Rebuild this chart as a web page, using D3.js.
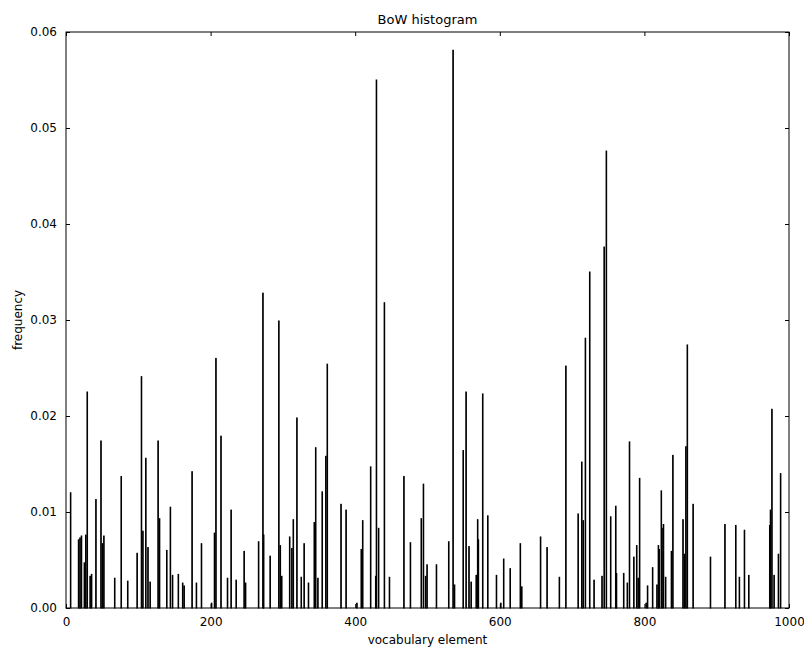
<!DOCTYPE html>
<html>
<head>
<meta charset="utf-8">
<script src="https://cdn.jsdelivr.net/npm/d3@7"></script>
<style>
  body { margin: 0; background: #fff; }
  text { font-family: "DejaVu Sans", sans-serif; fill: #000; }
</style>
</head>
<body>
<div id="chart"></div>
<script>
// vocabulary indices that have non-zero frequency, and their frequency
const vocabIndex = [
  6, 17, 19, 21, 25, 27, 29, 33, 35, 41, 48, 50, 52, 67, 76, 85, 98, 104, 106, 110,
  113, 116, 127, 129, 139, 144, 147, 155, 161, 163, 174, 180, 187, 201, 205, 207, 214, 223, 228, 235,
  246, 248, 266, 272, 273, 282, 294, 296, 298, 309, 312, 314, 319, 325, 329, 335, 343, 345, 348, 354,
  359, 361, 380, 387, 402, 408, 410, 421, 428, 429, 432, 440, 447, 467, 476, 491, 494, 497, 499, 512,
  529, 535, 537, 549, 553, 557, 560, 567, 569, 570, 576, 583, 595, 601, 605, 614, 628, 630, 656, 665,
  682, 691, 708, 713, 715, 718, 724, 730, 741, 744, 747, 753, 760, 761, 771, 776, 779, 785, 789, 791,
  793, 802, 804, 811, 817, 819, 820, 823, 824, 826, 829, 837, 839, 853, 855, 857, 859, 867, 891, 911,
  926, 931, 938, 944, 973, 974, 976, 979, 985, 988
];
const frequency = [
  0.0120, 0.0071, 0.0073, 0.0075, 0.0047, 0.0076, 0.0225, 0.0033, 0.0035, 0.0113,
  0.0174, 0.0067, 0.0075, 0.0031, 0.0137, 0.0028, 0.0057, 0.0241, 0.0080, 0.0156,
  0.0063, 0.0027, 0.0174, 0.0093, 0.0060, 0.0105, 0.0034, 0.0035, 0.0026, 0.0023,
  0.0142, 0.0026, 0.0067, 0.0005, 0.0078, 0.0260, 0.0179, 0.0031, 0.0102, 0.0029,
  0.0059, 0.0026, 0.0069, 0.0328, 0.0076, 0.0054, 0.0299, 0.0065, 0.0033, 0.0074,
  0.0062, 0.0092, 0.0198, 0.0032, 0.0067, 0.0026, 0.0089, 0.0167, 0.0031, 0.0121,
  0.0158, 0.0254, 0.0108, 0.0102, 0.0005, 0.0061, 0.0091, 0.0147, 0.0033, 0.0550,
  0.0083, 0.0318, 0.0032, 0.0137, 0.0068, 0.0093, 0.0129, 0.0033, 0.0045, 0.0045,
  0.0069, 0.0581, 0.0024, 0.0164, 0.0225, 0.0064, 0.0027, 0.0034, 0.0092, 0.0071,
  0.0223, 0.0096, 0.0034, 0.0005, 0.0051, 0.0041, 0.0067, 0.0022, 0.0074, 0.0063,
  0.0032, 0.0252, 0.0098, 0.0152, 0.0091, 0.0281, 0.0350, 0.0029, 0.0033, 0.0376,
  0.0476, 0.0095, 0.0106, 0.0036, 0.0036, 0.0026, 0.0173, 0.0053, 0.0065, 0.0031,
  0.0135, 0.0005, 0.0023, 0.0042, 0.0024, 0.0065, 0.0061, 0.0122, 0.0083, 0.0087,
  0.0032, 0.0059, 0.0159, 0.0092, 0.0056, 0.0168, 0.0274, 0.0108, 0.0053, 0.0087,
  0.0086, 0.0032, 0.0081, 0.0034, 0.0086, 0.0102, 0.0207, 0.0034, 0.0056, 0.0140
];
const xTicks = [0, 200, 400, 600, 800, 1000];
const yTicks = [0, 0.01, 0.02, 0.03, 0.04, 0.05, 0.06];

const bars = vocabIndex.map((v, i) => ({ idx: v, f: frequency[i] }));

const W = 804, H = 651;
const mLeft = 66, mRight = 789, mTop = 32, mBottom = 608;

const svg = d3.select("#chart").append("svg")
  .attr("width", W).attr("height", H);

const x = d3.scaleLinear().domain([0, 1000]).range([mLeft, mRight]);
const y = d3.scaleLinear().domain([0, 0.06]).range([mBottom, mTop]);

// bars
svg.append("g")
  .selectAll("rect")
  .data(bars)
  .enter()
  .append("rect")
  .attr("x", d => x(d.idx))
  .attr("width", x(0.8) - x(0))
  .attr("y", d => y(d.f))
  .attr("height", d => y(0) - y(d.f))
  .attr("fill", "#000")
  .attr("stroke", "#000")
  .attr("stroke-width", 1);

// frame
svg.append("rect")
  .attr("x", mLeft).attr("y", mTop)
  .attr("width", mRight - mLeft).attr("height", mBottom - mTop)
  .attr("fill", "none").attr("stroke", "#000").attr("stroke-width", 1);

// axes, ticks pointing inward like matplotlib classic
const tk = 4;
svg.append("g")
  .attr("transform", "translate(0," + mBottom + ")")
  .call(d3.axisBottom(x).tickValues(xTicks).tickSize(-tk).tickPadding(9).tickFormat(d3.format("d")))
  .call(g => g.select(".domain").remove());
svg.append("g")
  .attr("transform", "translate(0," + mTop + ")")
  .call(d3.axisTop(x).tickValues(xTicks).tickSize(-tk).tickFormat(""))
  .call(g => g.select(".domain").remove());
svg.append("g")
  .attr("transform", "translate(" + mLeft + ",0)")
  .call(d3.axisLeft(y).tickValues(yTicks).tickSize(-tk).tickPadding(9).tickFormat(d3.format(".2f")))
  .call(g => g.select(".domain").remove());
svg.append("g")
  .attr("transform", "translate(" + mRight + ",0)")
  .call(d3.axisRight(y).tickValues(yTicks).tickSize(-tk).tickFormat(""))
  .call(g => g.select(".domain").remove());

svg.selectAll(".tick text").style("font-size", "12px").style("font-family", "DejaVu Sans, sans-serif");
svg.selectAll(".tick line").attr("stroke", "#000");

// labels
svg.append("text")
  .attr("x", (mLeft + mRight) / 2).attr("y", 24)
  .attr("text-anchor", "middle").style("font-size", "13px")
  .text("BoW histogram");
svg.append("text")
  .attr("x", (mLeft + mRight) / 2).attr("y", 644)
  .attr("text-anchor", "middle").style("font-size", "12px")
  .text("vocabulary element");
svg.append("text")
  .attr("transform", "translate(22," + (mTop + mBottom) / 2 + ") rotate(-90)")
  .attr("text-anchor", "middle").style("font-size", "12px")
  .text("frequency");
</script>
</body>
</html>
